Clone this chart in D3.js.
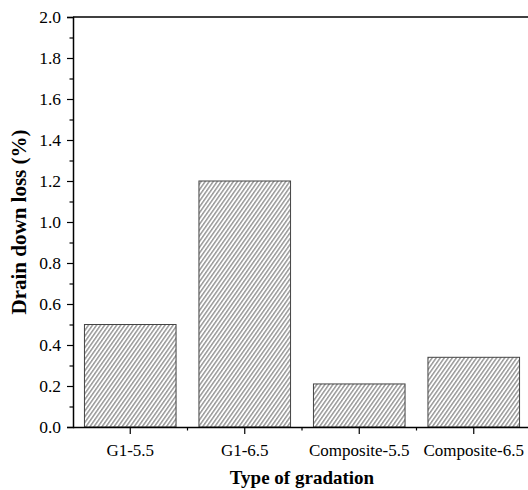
<!DOCTYPE html>
<html>
<head>
<meta charset="utf-8">
<script src="https://cdn.jsdelivr.net/npm/d3@7"></script>
<style>
  html, body { margin: 0; padding: 0; background: #fff; }
  svg { display: block; }
  text { font-family: "Liberation Serif", "Times New Roman", serif; fill: #000; }
</style>
</head>
<body>
<svg id="chart" width="528" height="490"></svg>
<script>
// Drain-down loss by mixture gradation
const categories = ["G1-5.5", "G1-6.5", "Composite-5.5", "Composite-6.5"];
const drainDown = [0.50, 1.20, 0.21, 0.34];
const yTicks = [0.0, 0.2, 0.4, 0.6, 0.8, 1.0, 1.2, 1.4, 1.6, 1.8, 2.0];
const yMinorTicks = [0.1, 0.3, 0.5, 0.7, 0.9, 1.1, 1.3, 1.5, 1.7, 1.9];

const W = 528, H = 490;
const m = { left: 73, top: 17, bottom: 427, right: 531 };

const svg = d3.select("#chart");

// diagonal hatch fill: thin lines leaning to the right
const defs = svg.append("defs");
const pat = defs.append("pattern")
  .attr("id", "hatch")
  .attr("patternUnits", "userSpaceOnUse")
  .attr("width", 3.3).attr("height", 10)
  .attr("patternTransform", "rotate(35)");
pat.append("rect").attr("width", 3.3).attr("height", 10).attr("fill", "#fff");
pat.append("line")
  .attr("x1", 1.6).attr("x2", 1.6).attr("y1", 0).attr("y2", 10)
  .attr("stroke", "#555").attr("stroke-width", 0.9);

const x = d3.scaleBand().domain(categories).range([m.left, m.right]).paddingInner(0.2).paddingOuter(0.1);
const y = d3.scaleLinear().domain([0, 2]).range([m.bottom, m.top]);

// bars
svg.append("g").selectAll("rect")
  .data(categories)
  .join("rect")
  .attr("x", d => x(d))
  .attr("y", (d, i) => y(drainDown[i]))
  .attr("width", x.bandwidth())
  .attr("height", (d, i) => y(0) - y(drainDown[i]))
  .attr("fill", "url(#hatch)")
  .attr("stroke", "#444")
  .attr("stroke-width", 1);

// top frame
svg.append("line")
  .attr("x1", m.left).attr("x2", W)
  .attr("y1", m.top).attr("y2", m.top)
  .attr("stroke", "#000").attr("stroke-width", 1.5);

// y axis
const yAxis = svg.append("g").attr("transform", `translate(${m.left},0)`);
yAxis.call(d3.axisLeft(y).tickValues(yTicks).tickFormat(d3.format(".1f")).tickSize(6).tickPadding(6));
yAxis.append("g").call(d3.axisLeft(y).tickValues(yMinorTicks).tickFormat("").tickSize(3.5))
  .select(".domain").remove();
yAxis.selectAll("path.domain").attr("stroke-width", 1.5);
yAxis.selectAll("line").attr("stroke-width", 1.2);
yAxis.selectAll("text").attr("font-size", 17.5).attr("fill", "#000").style("font-family", "Liberation Serif");

// x axis
const xAxis = svg.append("g").attr("transform", `translate(0,${m.bottom})`);
xAxis.call(d3.axisBottom(x).tickSize(7).tickPadding(10).tickSizeOuter(0));
const bounds = categories.slice(1).map(c => x(c) - x.step() * x.paddingInner() / 2);
xAxis.selectAll("line.minor")
  .data(bounds)
  .join("line")
  .attr("class", "minor")
  .attr("x1", d => d).attr("x2", d => d)
  .attr("y1", 0).attr("y2", 3.5)
  .attr("stroke", "#000").attr("stroke-width", 1.2);
xAxis.select(".domain").attr("d", `M${m.left},0.5H${W}`).attr("stroke-width", 1.5);
xAxis.selectAll(".tick line").attr("stroke-width", 1.2);
xAxis.selectAll("text").attr("font-size", 17).attr("fill", "#000").style("font-family", "Liberation Serif");

// axis titles
svg.append("text")
  .attr("x", (m.left + m.right) / 2).attr("y", 484)
  .attr("text-anchor", "middle")
  .attr("font-size", 19).attr("font-weight", "bold")
  .text("Type of gradation");

svg.append("text")
  .attr("transform", `translate(26,222) rotate(-90)`)
  .attr("text-anchor", "middle")
  .attr("font-size", 21).attr("font-weight", "bold")
  .text("Drain down loss (%)");
</script>
</body>
</html>
